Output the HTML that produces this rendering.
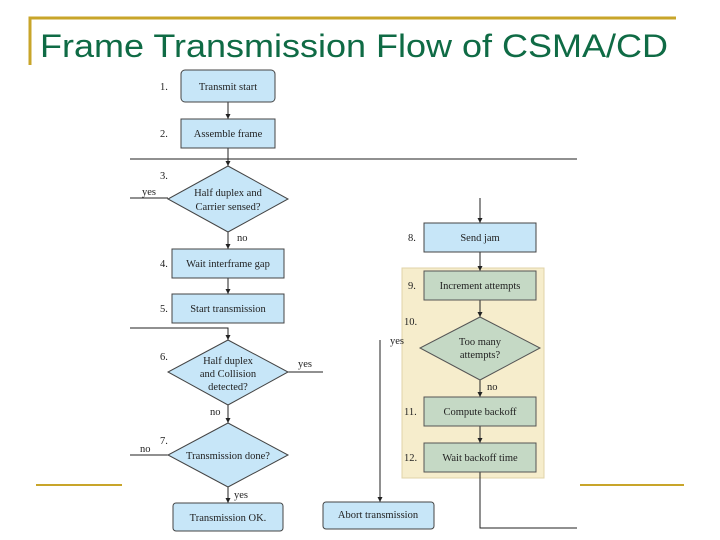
<!DOCTYPE html>
<html><head><style>
html,body{margin:0;padding:0;background:#fff;}
svg{display:block;}
</style></head><body>
<svg width="720" height="540" viewBox="0 0 720 540" xmlns="http://www.w3.org/2000/svg" font-family="Liberation Serif, serif" font-size="10.5" fill="#222">
<defs><marker id="a" markerWidth="6" markerHeight="6" refX="5" refY="3" orient="auto"><path d="M0,0.5 L5,3 L0,5.5z" fill="#222"/></marker></defs>
<path d="M30,65 V18 H676" stroke="#c8a52a" stroke-width="3" fill="none"/>
<line x1="36" y1="485" x2="122" y2="485" stroke="#c8a52a" stroke-width="2"/>
<line x1="580" y1="485" x2="684" y2="485" stroke="#c8a52a" stroke-width="2"/>
<text x="40" y="57" font-family="Liberation Sans, sans-serif" font-size="32" textLength="628" lengthAdjust="spacingAndGlyphs" fill="#0f6b45">Frame Transmission Flow of CSMA/CD</text>

<rect x="402" y="268" width="142" height="210" fill="#f6edcc" stroke="#e0d3a8"/>

<g stroke="#222" stroke-width="1" fill="none">
<line x1="228" y1="102" x2="228" y2="119" marker-end="url(#a)"/>
<line x1="130" y1="159" x2="577" y2="159"/>
<line x1="228" y1="148" x2="228" y2="166" marker-end="url(#a)"/>
<line x1="130" y1="198" x2="168" y2="198"/>
<line x1="228" y1="232" x2="228" y2="249" marker-end="url(#a)"/>
<line x1="228" y1="278" x2="228" y2="294" marker-end="url(#a)"/>
<path d="M130,328 H228 V340" marker-end="url(#a)"/>
<line x1="288" y1="372" x2="323" y2="372"/>
<line x1="228" y1="405" x2="228" y2="423" marker-end="url(#a)"/>
<line x1="130" y1="455" x2="168" y2="455"/>
<line x1="228" y1="487" x2="228" y2="503" marker-end="url(#a)"/>
<line x1="380" y1="340" x2="380" y2="502" marker-end="url(#a)"/>
<line x1="480" y1="198" x2="480" y2="223" marker-end="url(#a)"/>
<line x1="480" y1="252" x2="480" y2="271" marker-end="url(#a)"/>
<line x1="480" y1="300" x2="480" y2="317" marker-end="url(#a)"/>
<line x1="480" y1="380" x2="480" y2="397" marker-end="url(#a)"/>
<line x1="480" y1="426" x2="480" y2="443" marker-end="url(#a)"/>
<path d="M480,472 V528 H577"/>
</g>

<g stroke="#444" stroke-width="1" fill="#c7e6f8">
<rect x="181" y="70" width="94" height="32" rx="4"/>
<rect x="181" y="119" width="94" height="29"/>
<polygon points="228,166 288,199 228,232 168,199"/>
<rect x="172" y="249" width="112" height="29"/>
<rect x="172" y="294" width="112" height="29"/>
<polygon points="228,340 288,372 228,405 168,372"/>
<polygon points="228,423 288,455 228,487 168,455"/>
<rect x="173" y="503" width="110" height="28" rx="3"/>
<rect x="323" y="502" width="111" height="27" rx="3"/>
<rect x="424" y="223" width="112" height="29"/>
</g>
<g stroke="#555" stroke-width="1" fill="#c5d9c5">
<rect x="424" y="271" width="112" height="29"/>
<polygon points="480,317 540,348 480,380 420,348"/>
<rect x="424" y="397" width="112" height="29"/>
<rect x="424" y="443" width="112" height="29"/>
</g>

<g text-anchor="middle">
<text x="228" y="90">Transmit start</text>
<text x="228" y="137">Assemble frame</text>
<text x="228" y="196">Half duplex and</text>
<text x="228" y="210">Carrier sensed?</text>
<text x="228" y="267">Wait interframe gap</text>
<text x="228" y="312">Start transmission</text>
<text x="228" y="364">Half duplex</text>
<text x="228" y="377">and Collision</text>
<text x="228" y="390">detected?</text>
<text x="228" y="459">Transmission done?</text>
<text x="228" y="521">Transmission OK.</text>
<text x="378" y="518">Abort transmission</text>
<text x="480" y="241">Send jam</text>
<text x="480" y="289">Increment attempts</text>
<text x="480" y="345">Too many</text>
<text x="480" y="358">attempts?</text>
<text x="480" y="415">Compute backoff</text>
<text x="480" y="461">Wait backoff time</text>
</g>
<g>
<text x="160" y="90">1.</text>
<text x="160" y="137">2.</text>
<text x="160" y="179">3.</text>
<text x="160" y="267">4.</text>
<text x="160" y="312">5.</text>
<text x="160" y="360">6.</text>
<text x="160" y="444">7.</text>
<text x="408" y="241">8.</text>
<text x="408" y="289">9.</text>
<text x="404" y="325">10.</text>
<text x="404" y="415">11.</text>
<text x="404" y="461">12.</text>
<text x="142" y="195">yes</text>
<text x="237" y="241">no</text>
<text x="298" y="367">yes</text>
<text x="210" y="415">no</text>
<text x="140" y="452">no</text>
<text x="234" y="498">yes</text>
<text x="390" y="344">yes</text>
<text x="487" y="390">no</text>
</g>
</svg>
</body></html>
